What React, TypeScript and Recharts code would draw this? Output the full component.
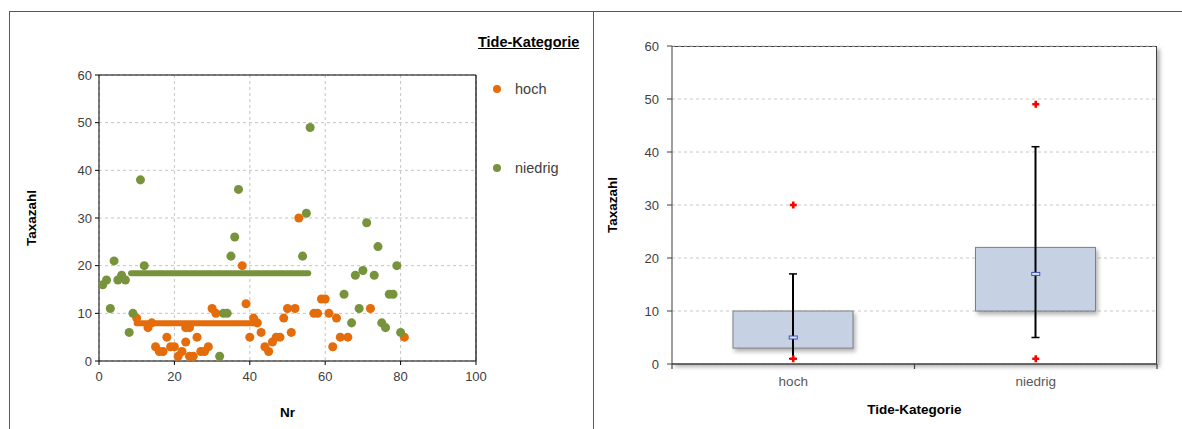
import {
  ScatterChart,
  Scatter,
  ComposedChart,
  Bar,
  Line,
  XAxis,
  YAxis,
  CartesianGrid,
  ReferenceLine,
  Legend,
} from "recharts";

const FONT = "'Liberation Sans', Arial, sans-serif";
const ORANGE = "#e46c0a";
const GREEN = "#77933c";

// Taxazahl per sample (Nr), split by tide category
const hochNr = [10, 13, 14, 15, 16, 17, 18, 19, 20, 21, 22, 23, 23, 24, 24, 25, 26, 27, 28, 29, 30, 31, 38, 39, 40, 41, 42, 43, 44, 45, 46, 47, 48, 49, 50, 51, 52, 53, 57, 58, 59, 60, 61, 62, 63, 64, 66, 72, 81];
const hochTaxa = [9, 7, 8, 3, 2, 2, 5, 3, 3, 1, 2, 4, 7, 7, 1, 1, 5, 2, 2, 3, 11, 10, 20, 12, 5, 9, 8, 6, 3, 2, 4, 5, 5, 9, 11, 6, 11, 30, 10, 10, 13, 13, 10, 3, 9, 5, 5, 11, 5];
const niedrigNr = [1, 2, 3, 4, 5, 6, 7, 8, 9, 11, 12, 32, 33, 34, 35, 36, 37, 54, 55, 56, 65, 67, 68, 69, 70, 71, 73, 74, 75, 76, 77, 78, 79, 80];
const niedrigTaxa = [16, 17, 11, 21, 17, 18, 17, 6, 10, 38, 20, 1, 10, 10, 22, 26, 36, 22, 31, 49, 14, 8, 18, 11, 19, 29, 18, 24, 8, 7, 14, 14, 20, 6];

// mean lines drawn across the scatter
const hochMeanNr = [10, 42];
const hochMeanTaxa = [7.9, 7.9];
const niedrigMeanNr = [8.5, 55.5];
const niedrigMeanTaxa = [18.4, 18.4];

const nrTicks = [0, 20, 40, 60, 80, 100];
const taxaTicks = [0, 10, 20, 30, 40, 50, 60];

// box plot statistics per category
const categories = ["hoch", "niedrig"];
const q1 = [3, 10];
const q3 = [10, 22];
const median = [5, 17];
const whiskerLow = [1, 5];
const whiskerHigh = [17, 41];
const minimum = [1, 1];
const maximum = [30, 49];

const toPoints = (xs: number[], ys: number[]) => xs.map((nr, i) => ({ nr, taxa: ys[i] }));

const hochPoints = toPoints(hochNr, hochTaxa);
const niedrigPoints = toPoints(niedrigNr, niedrigTaxa);
const hochMean = toPoints(hochMeanNr, hochMeanTaxa);
const niedrigMean = toPoints(niedrigMeanNr, niedrigMeanTaxa);

const boxRows = categories.map((name, i) => ({
  name,
  box: [q1[i], q3[i]],
  whisker: [whiskerLow[i], whiskerHigh[i]],
  median: median[i],
  minimum: minimum[i],
  maximum: maximum[i],
}));

const tickStyle = { fontFamily: FONT, fontSize: 13, fill: "#404040" };
const titleStyle = { fontFamily: FONT, fontSize: 13.5, fontWeight: "bold", fill: "#000", textAnchor: "middle" } as const;

function TideLegend(props: any) {
  const items = (props.payload || []).filter((p: any) => p.value === "hoch" || p.value === "niedrig");
  return (
    <div style={{ fontFamily: FONT, width: 130 }}>
      <div style={{ fontWeight: "bold", fontSize: 14.5, textDecoration: "underline", lineHeight: "16px", color: "#000" }}>
        Tide-Kategorie
      </div>
      {items.map((p: any, i: number) => (
        <div
          key={p.value}
          style={{ display: "flex", alignItems: "center", height: 16, marginTop: i === 0 ? 31 : 63, color: "#404040", fontSize: 14.5 }}
        >
          <span style={{ width: 8, height: 8, borderRadius: 4, background: p.color, marginLeft: 15, marginRight: 14 }} />
          {p.value}
        </div>
      ))}
    </div>
  );
}

function NoMark() {
  return <g />;
}

// category label plus the tick marks on the band edges
function CategoryTick(props: any) {
  const { x, y, payload, index } = props;
  const half = typeof payload?.offset === "number" && payload.offset > 0 ? payload.offset : 121.25;
  const axisY = y - 12;
  return (
    <g>
      <line x1={x + half} x2={x + half} y1={axisY} y2={axisY + 5} stroke="#404040" strokeWidth={1.2} />
      {index === 0 && <line x1={x - half} x2={x - half} y1={axisY} y2={axisY + 5} stroke="#404040" strokeWidth={1.2} />}
      <text x={x} y={y} dy="0.75em" textAnchor="middle" fontFamily={FONT} fontSize={13.5} fill="#595959">
        {payload.value}
      </text>
    </g>
  );
}

function BoxShape(props: any) {
  const { x, y, width, height } = props;
  return (
    <rect
      x={x}
      y={y}
      width={width}
      height={height}
      fill="#c6d2e3"
      stroke="#808080"
      strokeWidth={1}
      style={{ filter: "drop-shadow(2px 3px 2px rgba(0,0,0,0.3))" }}
    />
  );
}

function Whisker(props: any) {
  const { x, y, width, height } = props;
  const cx = x + width / 2;
  return (
    <g stroke="#000">
      <line x1={cx} x2={cx} y1={y} y2={y + height} strokeWidth={2} />
      <line x1={cx - 4} x2={cx + 4} y1={y} y2={y} strokeWidth={1.5} />
      <line x1={cx - 4} x2={cx + 4} y1={y + height} y2={y + height} strokeWidth={1.5} />
    </g>
  );
}

function MedianMark(props: any) {
  const { cx, cy, index } = props;
  if (cx == null || cy == null) return <g key={index} />;
  return <rect key={index} x={cx - 4} y={cy - 1.5} width={8} height={3} fill="#dfe6f2" stroke="#3b4fc0" strokeWidth={1} />;
}

function PlusMark(props: any) {
  const { cx, cy, index } = props;
  if (cx == null || cy == null) return <g key={index} />;
  return (
    <path
      key={index}
      d={`M${cx - 3.5},${cy}H${cx + 3.5}M${cx},${cy - 3.5}V${cy + 3.5}`}
      stroke="#ff0000"
      strokeWidth={2.6}
    />
  );
}

function ScatterPanel() {
  return (
    <ScatterChart width={593} height={429} margin={{ top: 75, right: 117, bottom: 38, left: 49 }}>
      <CartesianGrid strokeDasharray="3 3" stroke="#c4c4c4" />
      <XAxis
        type="number"
        dataKey="nr"
        domain={[0, 100]}
        ticks={nrTicks}
        stroke="#000"
        tickSize={4}
        tickMargin={7}
        tick={tickStyle}
        height={30}
        label={{ value: "Nr", position: "bottom", offset: 16, style: titleStyle }}
      />
      <YAxis
        type="number"
        dataKey="taxa"
        domain={[0, 60]}
        ticks={taxaTicks}
        stroke="#000"
        tickSize={4}
        tickMargin={3}
        tick={tickStyle}
        width={50}
        label={{ value: "Taxazahl", angle: -90, position: "left", offset: 18, style: titleStyle }}
      />
      <ReferenceLine y={60} stroke="#000" strokeWidth={1.2} />
      <ReferenceLine x={100} stroke="#000" strokeWidth={1.2} />
      <Scatter name="hoch" data={hochPoints} fill={ORANGE} isAnimationActive={false} />
      <Scatter name="niedrig" data={niedrigPoints} fill={GREEN} isAnimationActive={false} />
      <Scatter
        name="hoch-mittel"
        data={hochMean}
        line={{ stroke: ORANGE, strokeWidth: 6, strokeLinecap: "round" }}
        shape={NoMark}
        legendType="none"
        isAnimationActive={false}
      />
      <Scatter
        name="niedrig-mittel"
        data={niedrigMean}
        line={{ stroke: GREEN, strokeWidth: 6, strokeLinecap: "round" }}
        shape={NoMark}
        legendType="none"
        isAnimationActive={false}
      />
      <Legend
        layout="vertical"
        align="center"
        verticalAlign="middle"
        wrapperStyle={{ left: 478, top: 34, width: 130 }}
        content={TideLegend}
      />
    </ScatterChart>
  );
}

function BoxPanel() {
  return (
    <div style={{ position: "relative", width: 589, height: 429 }}>
      {/* plot frame with shadow */}
      <div
        style={{
          position: "absolute",
          left: 79,
          top: 46,
          width: 485,
          height: 318,
          borderTop: "1px solid #404040",
          borderRight: "1px solid #404040",
          boxSizing: "border-box",
          boxShadow: "3px 3px 4px rgba(0,0,0,0.3)",
          background: "#fff",
        }}
      />
      <div style={{ position: "absolute", left: 0, top: 0 }}>
        <ComposedChart width={589} height={429} data={boxRows} margin={{ top: 46, right: 25, bottom: 35, left: 34 }}>
          <CartesianGrid vertical={false} strokeDasharray="3 3" stroke="#c8c8c8" />
          <XAxis
            dataKey="name"
            stroke="#404040"
            strokeWidth={1.5}
            tickLine={false}
            tickSize={6}
            tickMargin={6}
            tick={CategoryTick}
            height={30}
            label={{ value: "Tide-Kategorie", position: "bottom", offset: 10, style: titleStyle }}
          />
          <XAxis xAxisId="w" dataKey="name" hide />
          <YAxis
            domain={[0, 60]}
            ticks={taxaTicks}
            stroke="#404040"
            tickSize={5}
            tickMargin={8}
            tick={tickStyle}
            width={45}
            label={{ value: "Taxazahl", angle: -90, position: "left", offset: 15, style: titleStyle }}
          />
          <Bar dataKey="box" barSize={120} shape={BoxShape} isAnimationActive={false} />
          <Bar dataKey="whisker" xAxisId="w" barSize={10} shape={Whisker} isAnimationActive={false} />
          <Line dataKey="median" stroke="none" dot={MedianMark} activeDot={false} legendType="none" isAnimationActive={false} />
          <Line dataKey="minimum" stroke="none" dot={PlusMark} activeDot={false} legendType="none" isAnimationActive={false} />
          <Line dataKey="maximum" stroke="none" dot={PlusMark} activeDot={false} legendType="none" isAnimationActive={false} />
        </ComposedChart>
      </div>
    </div>
  );
}

export default function App() {
  return (
    <div style={{ position: "absolute", left: 0, top: 0, width: 1182, height: 429, background: "#fff", overflow: "hidden" }}>
      {/* outer frame and divider between the two panels */}
      <div style={{ position: "absolute", left: 9, top: 11, width: 1173, height: 1, background: "#595959" }} />
      <div style={{ position: "absolute", left: 9, top: 11, width: 1, height: 418, background: "#595959" }} />
      <div style={{ position: "absolute", left: 593, top: 11, width: 1, height: 418, background: "#595959" }} />
      <div style={{ position: "absolute", left: 0, top: 0 }}>
        <ScatterPanel />
      </div>
      <div style={{ position: "absolute", left: 593, top: 0 }}>
        <BoxPanel />
      </div>
    </div>
  );
}
